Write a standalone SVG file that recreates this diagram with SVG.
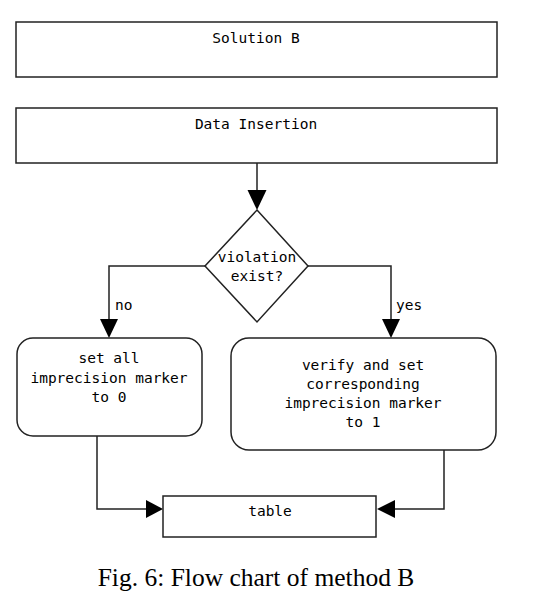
<svg xmlns="http://www.w3.org/2000/svg" width="560" height="602" viewBox="0 0 560 602">
<style>
.box{fill:#fff;stroke:#222;stroke-width:1.5}
.t{font-family:"DejaVu Sans Mono",monospace;font-size:14.5px;fill:#000;text-anchor:middle}
.lbl{font-family:"DejaVu Sans Mono",monospace;font-size:14.5px;fill:#000}
.ln{fill:none;stroke:#222;stroke-width:1.5}
.ah{fill:#000}
.cap{font-family:"Liberation Serif",serif;font-size:25.5px;fill:#000;text-anchor:middle}
</style>
<rect width="560" height="602" fill="#fff"/>
<g id="connectors">
<line class="ln" x1="257" y1="163" x2="257" y2="192"/>
<polygon class="ah" points="247.5,190 266.5,190 257,210"/>
<polyline class="ln" points="205,266 109,266 109,320"/>
<polygon class="ah" points="100,319 118,319 109,338"/>
<polyline class="ln" points="308,266 391,266 391,320"/>
<polygon class="ah" points="382,319 400,319 391,338"/>
<polyline class="ln" points="97,436 97,509 148,509"/>
<polygon class="ah" points="146,500 146,518 163,509"/>
<polyline class="ln" points="444,450 444,509 394,509"/>
<polygon class="ah" points="395,500 395,518 377,509"/>
<text class="lbl" x="115" y="310">no</text>
<text class="lbl" x="396" y="310">yes</text>
</g>
<g id="solution">
<rect class="box" x="16" y="22" width="481" height="55"/>
<text class="t" x="256" y="43">Solution B</text>
</g>
<g id="insertion">
<rect class="box" x="16" y="108" width="481" height="55"/>
<text class="t" x="256" y="129">Data Insertion</text>
</g>
<g id="decision">
<polygon class="box" points="257,210 308,266 257,322 205,266"/>
<text class="t" x="257" y="262">violation</text>
<text class="t" x="257" y="281">exist?</text>
</g>
<g id="setall">
<rect class="box" x="17" y="338" width="185" height="98" rx="16" ry="16"/>
<text class="t" x="109" y="363">set all</text>
<text class="t" x="109" y="383">imprecision marker</text>
<text class="t" x="109" y="402">to 0</text>
</g>
<g id="verify">
<rect class="box" x="231" y="338" width="265" height="112" rx="18" ry="18"/>
<text class="t" x="363" y="370">verify and set</text>
<text class="t" x="363" y="389">corresponding</text>
<text class="t" x="363" y="408">imprecision marker</text>
<text class="t" x="363" y="427">to 1</text>
</g>
<g id="table">
<rect class="box" x="163" y="496" width="213" height="41"/>
<text class="t" x="270" y="516">table</text>
</g>
<text class="cap" x="256" y="586">Fig. 6: Flow chart of method B</text>
</svg>
